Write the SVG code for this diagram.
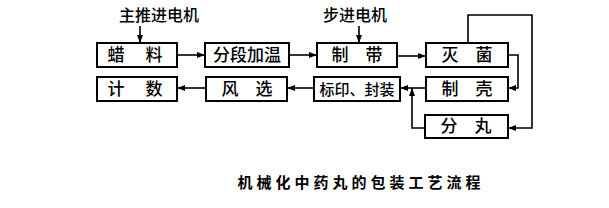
<svg xmlns="http://www.w3.org/2000/svg" width="609" height="208" viewBox="0 0 609 208">
<defs>
<style>
.box{fill:#fff;stroke:#000;stroke-width:2}
.t{font-family:"Noto Sans CJK SC","Noto Sans CJK JP",sans-serif;font-size:17px;font-weight:500;fill:#000;text-anchor:middle}
.lbl{font-family:"Noto Sans CJK SC","Noto Sans CJK JP",sans-serif;font-size:16px;font-weight:500;fill:#000;text-anchor:middle}
.ln{fill:none;stroke:#000;stroke-width:1.6}
.cap{font-family:"Noto Sans CJK SC","Noto Sans CJK JP",sans-serif;font-size:15px;font-weight:bold;fill:#000;text-anchor:middle;letter-spacing:4px}
</style>
<marker id="ah" viewBox="0 0 8 6" refX="8" refY="3" markerWidth="8" markerHeight="6" markerUnits="userSpaceOnUse" orient="auto">
<path d="M0,0 L8,3 L0,6 Z" fill="#000"/>
</marker>
</defs>
<rect width="609" height="208" fill="#fff"/>
<g id="connectors">
<path class="ln" d="M140,26 V43" marker-end="url(#ah)"/>
<path class="ln" d="M359,26 V43" marker-end="url(#ah)"/>
<path class="ln" d="M177,55 H205" marker-end="url(#ah)"/>
<path class="ln" d="M289,55 H317" marker-end="url(#ah)"/>
<path class="ln" d="M397,56 H426" marker-end="url(#ah)"/>
<path class="ln" d="M508,55 H518 V88 H508" marker-end="url(#ah)"/>
<path class="ln" d="M468,43 V15 H532 V128 H508" marker-end="url(#ah)"/>
<path class="ln" d="M425,128 H412 V88" marker-end="url(#ah)"/>
<path class="ln" d="M426,88 H400" marker-end="url(#ah)"/>
<path class="ln" d="M314,88 H287" marker-end="url(#ah)"/>
<path class="ln" d="M206,88 H177" marker-end="url(#ah)"/>
</g>
<g id="motor1"><text class="lbl" x="159" y="21">主推进电机</text></g>
<g id="motor2"><text class="lbl" x="355" y="21">步进电机</text></g>
<g id="lazi"><rect class="box" x="97" y="43" width="80" height="24"/><text class="t" x="136" y="61" xml:space="preserve" style="letter-spacing:2px">蜡　料</text></g>
<g id="fenduan"><rect class="box" x="205" y="43" width="84" height="24"/><text class="t" x="247" y="61">分段加温</text></g>
<g id="zhidai"><rect class="box" x="317" y="43" width="80" height="24"/><text class="t" x="357" y="61" xml:space="preserve">制　带</text></g>
<g id="miejun"><rect class="box" x="426" y="43" width="82" height="24"/><text class="t" x="467" y="61" xml:space="preserve">灭　菌</text></g>
<g id="jishu"><rect class="box" x="97" y="77" width="80" height="24"/><text class="t" x="136" y="95" xml:space="preserve" style="letter-spacing:2px">计　数</text></g>
<g id="fengxuan"><rect class="box" x="206" y="77" width="81" height="24"/><text class="t" x="247" y="95" xml:space="preserve">风　选</text></g>
<g id="biaoyin"><rect class="box" x="314" y="77" width="86" height="24"/><text class="t" x="357" y="95" style="font-size:15px">标印、封装</text></g>
<g id="zhike"><rect class="box" x="426" y="77" width="82" height="24"/><text class="t" x="467" y="95" xml:space="preserve">制　壳</text></g>
<g id="fenwan"><rect class="box" x="425" y="115" width="83" height="23"/><text class="t" x="466" y="132" xml:space="preserve">分　丸</text></g>
<g id="caption"><text class="cap" x="361" y="188">机械化中药丸的包装工艺流程</text></g>
</svg>
